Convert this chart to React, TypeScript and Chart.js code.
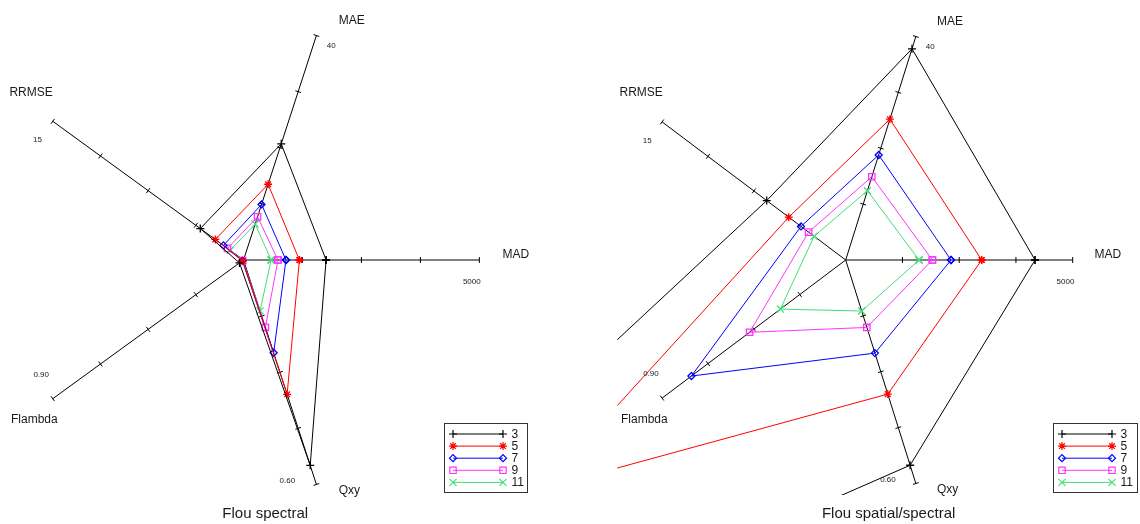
import React, { useEffect, useRef } from 'react';
import { Chart, registerables } from 'chart.js';
import { drawPoint } from 'chart.js/helpers';

Chart.register(...registerables);

// Axes, counter-clockwise starting from the right
const axisNames = ['MAD', 'MAE', 'RRMSE', 'Flambda', 'Qxy'];
const axisMax = [5000, 40, 15, 0.9, 0.6];
const axisMaxLabels = ['5000', '40', '15', '0.90', '0.60'];
const axisTickFractions = [0.25, 0.5, 0.75, 1];

// Series (filter size)
const seriesLabels = ['3', '5', '7', '9', '11'];

// Flou spectral : values on [MAD, MAE, RRMSE, Flambda, Qxy]
const spectral3 = [1750, 20.7, 3.4, 0.019, 0.549];
const spectral5 = [1185, 13.5, 2.22, 0.005, 0.359];
const spectral7 = [900, 9.9, 1.58, 0.005, 0.248];
const spectral9 = [730, 7.7, 1.26, 0.004, 0.18];
const spectral11 = [585, 6.4, 1.05, 0.004, 0.136];

// Flou spatial/spectral : values on [MAD, MAE, RRMSE, Flambda, Qxy]
const spatial3 = [4170, 37.8, 6.45, 3.645, 0.551];
const spatial5 = [2995, 25.2, 4.65, 1.49, 0.36];
const spatial7 = [2320, 18.8, 3.65, 0.756, 0.25];
const spatial9 = [1910, 14.9, 3.03, 0.471, 0.181];
const spatial11 = [1615, 12.4, 2.58, 0.32, 0.137];

const seriesColors = ['#000000', '#ff0000', '#0000ff', '#ff33ff', '#44dd77'];
const seriesMarkers = ['cross', 'star', 'rectRot', 'rect', 'crossRot'];
const seriesRadius = [4, 4, 3.5, 4.5, 5];

const FONT = '"Liberation Sans", Arial, Helvetica, sans-serif';
const TEXT = '#1a1a1a';

// label positions in axis-length units (relative to the centre)
const axisLabelPos = [
  [1.155, 0.021],
  [0.459, 1.014],
  [-0.901, 0.711],
  [-0.887, -0.678],
  [0.449, -0.979],
];
const maxLabelPos = [
  [0.968, -0.092],
  [0.372, 0.907],
  [-0.874, 0.508],
  [-0.858, -0.486],
  [0.186, -0.935],
];

const angleOf = (i: number) => (i * 2 * Math.PI) / axisNames.length;

function toXY(values: number[]) {
  const pts = values.map((v, i) => {
    const r = v / axisMax[i];
    const a = angleOf(i);
    return { x: r * Math.cos(a), y: r * Math.sin(a) };
  });
  pts.push(pts[0]);
  return pts;
}

type SpiderProps = {
  series: number[][];
  title: string;
  titlePos: [number, number];
  cx: number;
  cy: number;
  rx: number;
  ry: number;
  legendX: number;
  legendW: number;
  left: number;
};

const W = 570;
const H = 524;
const XMIN = -1.006;
const XMAX = 1.25;
const YMIN = -1.0;
const YMAX = 1.05;

function Spider(props: SpiderProps) {
  const ref = useRef<HTMLCanvasElement | null>(null);
  useEffect(() => {
    const canvas = ref.current;
    if (!canvas) return;
    const { series, title, titlePos, cx, cy, rx, ry, legendX, legendW } = props;

    const datasets = series.map((vals, k) => ({
      label: seriesLabels[k],
      data: toXY(vals),
      showLine: true,
      borderColor: seriesColors[k],
      borderWidth: 1,
      pointStyle: seriesMarkers[k],
      pointRadius: seriesRadius[k],
      pointHoverRadius: seriesRadius[k],
      pointBorderColor: seriesColors[k],
      pointBackgroundColor: 'rgba(0,0,0,0)',
      pointBorderWidth: 1.3,
      fill: false,
      tension: 0,
    }));

    const axesPlugin = {
      id: 'spiderAxes',
      beforeDatasetsDraw(chart: any) {
        const ctx = chart.ctx;
        const xs = chart.scales.x;
        const ys = chart.scales.y;
        const c0x = xs.getPixelForValue(0);
        const c0y = ys.getPixelForValue(0);
        ctx.save();
        ctx.strokeStyle = '#000';
        ctx.lineWidth = 1;
        axisNames.forEach((_, i) => {
          const a = angleOf(i);
          const ex = xs.getPixelForValue(Math.cos(a));
          const ey = ys.getPixelForValue(Math.sin(a));
          ctx.beginPath();
          ctx.moveTo(c0x, c0y);
          ctx.lineTo(ex, ey);
          ctx.stroke();
          const dx = ex - c0x;
          const dy = ey - c0y;
          const len = Math.hypot(dx, dy);
          const nx = -dy / len;
          const ny = dx / len;
          axisTickFractions.forEach((f) => {
            const px = c0x + dx * f;
            const py = c0y + dy * f;
            ctx.beginPath();
            ctx.moveTo(px - nx * 3, py - ny * 3);
            ctx.lineTo(px + nx * 3, py + ny * 3);
            ctx.stroke();
          });
        });
        ctx.restore();
      },
      afterDraw(chart: any) {
        const ctx = chart.ctx;
        const xs = chart.scales.x;
        const ys = chart.scales.y;
        ctx.save();
        ctx.fillStyle = TEXT;
        ctx.textAlign = 'center';
        ctx.textBaseline = 'middle';
        ctx.font = `12px ${FONT}`;
        axisNames.forEach((name, i) => {
          ctx.fillText(name, xs.getPixelForValue(axisLabelPos[i][0]), ys.getPixelForValue(axisLabelPos[i][1]));
        });
        ctx.font = `8px ${FONT}`;
        axisMaxLabels.forEach((lab, i) => {
          ctx.fillText(lab, xs.getPixelForValue(maxLabelPos[i][0]), ys.getPixelForValue(maxLabelPos[i][1]));
        });
        ctx.font = `15px ${FONT}`;
        ctx.fillText(title, xs.getPixelForValue(titlePos[0]), ys.getPixelForValue(titlePos[1]));

        // legend
        const top = 423.5;
        const h = 69;
        ctx.strokeStyle = '#333';
        ctx.lineWidth = 1;
        ctx.strokeRect(Math.round(legendX) + 0.5, top, legendW, h);
        ctx.font = `12px ${FONT}`;
        ctx.textAlign = 'left';
        seriesLabels.forEach((lab, k) => {
          const y = top + 10.5 + k * 12.1;
          const x1 = legendX + 9;
          const x2 = legendX + 59;
          ctx.strokeStyle = seriesColors[k];
          ctx.fillStyle = 'rgba(0,0,0,0)';
          ctx.lineWidth = 1;
          ctx.beginPath();
          ctx.moveTo(x1, y);
          ctx.lineTo(x2, y);
          ctx.stroke();
          const opts = { pointStyle: seriesMarkers[k], radius: seriesRadius[k], rotation: 0, borderWidth: 1.2 };
          ctx.lineWidth = 1.2;
          drawPoint(ctx, opts as any, x1, y);
          drawPoint(ctx, opts as any, x2, y);
          ctx.fillStyle = TEXT;
          ctx.fillText(lab, legendX + 67.5, y + 0.5);
        });
        ctx.restore();
      },
    };

    const chart = new Chart(canvas, {
      type: 'scatter',
      data: { datasets: datasets as any },
      options: {
        responsive: false,
        animation: false,
        devicePixelRatio: 1,
        layout: {
          padding: {
            left: cx + XMIN * rx,
            right: W - (cx + XMAX * rx),
            top: cy - YMAX * ry,
            bottom: H - (cy - YMIN * ry),
          },
        },
        scales: {
          x: { type: 'linear', display: false, min: XMIN, max: XMAX },
          y: { type: 'linear', display: false, min: YMIN, max: YMAX },
        },
        plugins: {
          legend: { display: false },
          tooltip: { enabled: false },
          title: { display: false },
        },
      },
      plugins: [axesPlugin],
    });
    return () => chart.destroy();
  }, []);
  return (
    <canvas
      ref={ref}
      width={W}
      height={H}
      style={{ position: 'absolute', left: props.left, top: 0, width: W, height: H }}
    />
  );
}

export default function App() {
  return (
    <div style={{ position: 'absolute', left: 0, top: 0, width: 1140, height: 524, background: '#fff' }}>
      <Spider
        series={[spectral3, spectral5, spectral7, spectral9, spectral11]}
        title="Flou spectral"
        titlePos={[0.092, -1.076]}
        cx={243.3}
        cy={260}
        rx={236}
        ry={236}
        legendX={444}
        legendW={83}
        left={0}
      />
      <Spider
        series={[spatial3, spatial5, spatial7, spatial9, spatial11]}
        title="Flou spatial/spectral"
        titlePos={[0.189, -1.08]}
        cx={275.7}
        cy={260}
        rx={227}
        ry={235}
        legendX={483}
        legendW={84}
        left={570}
      />
    </div>
  );
}
